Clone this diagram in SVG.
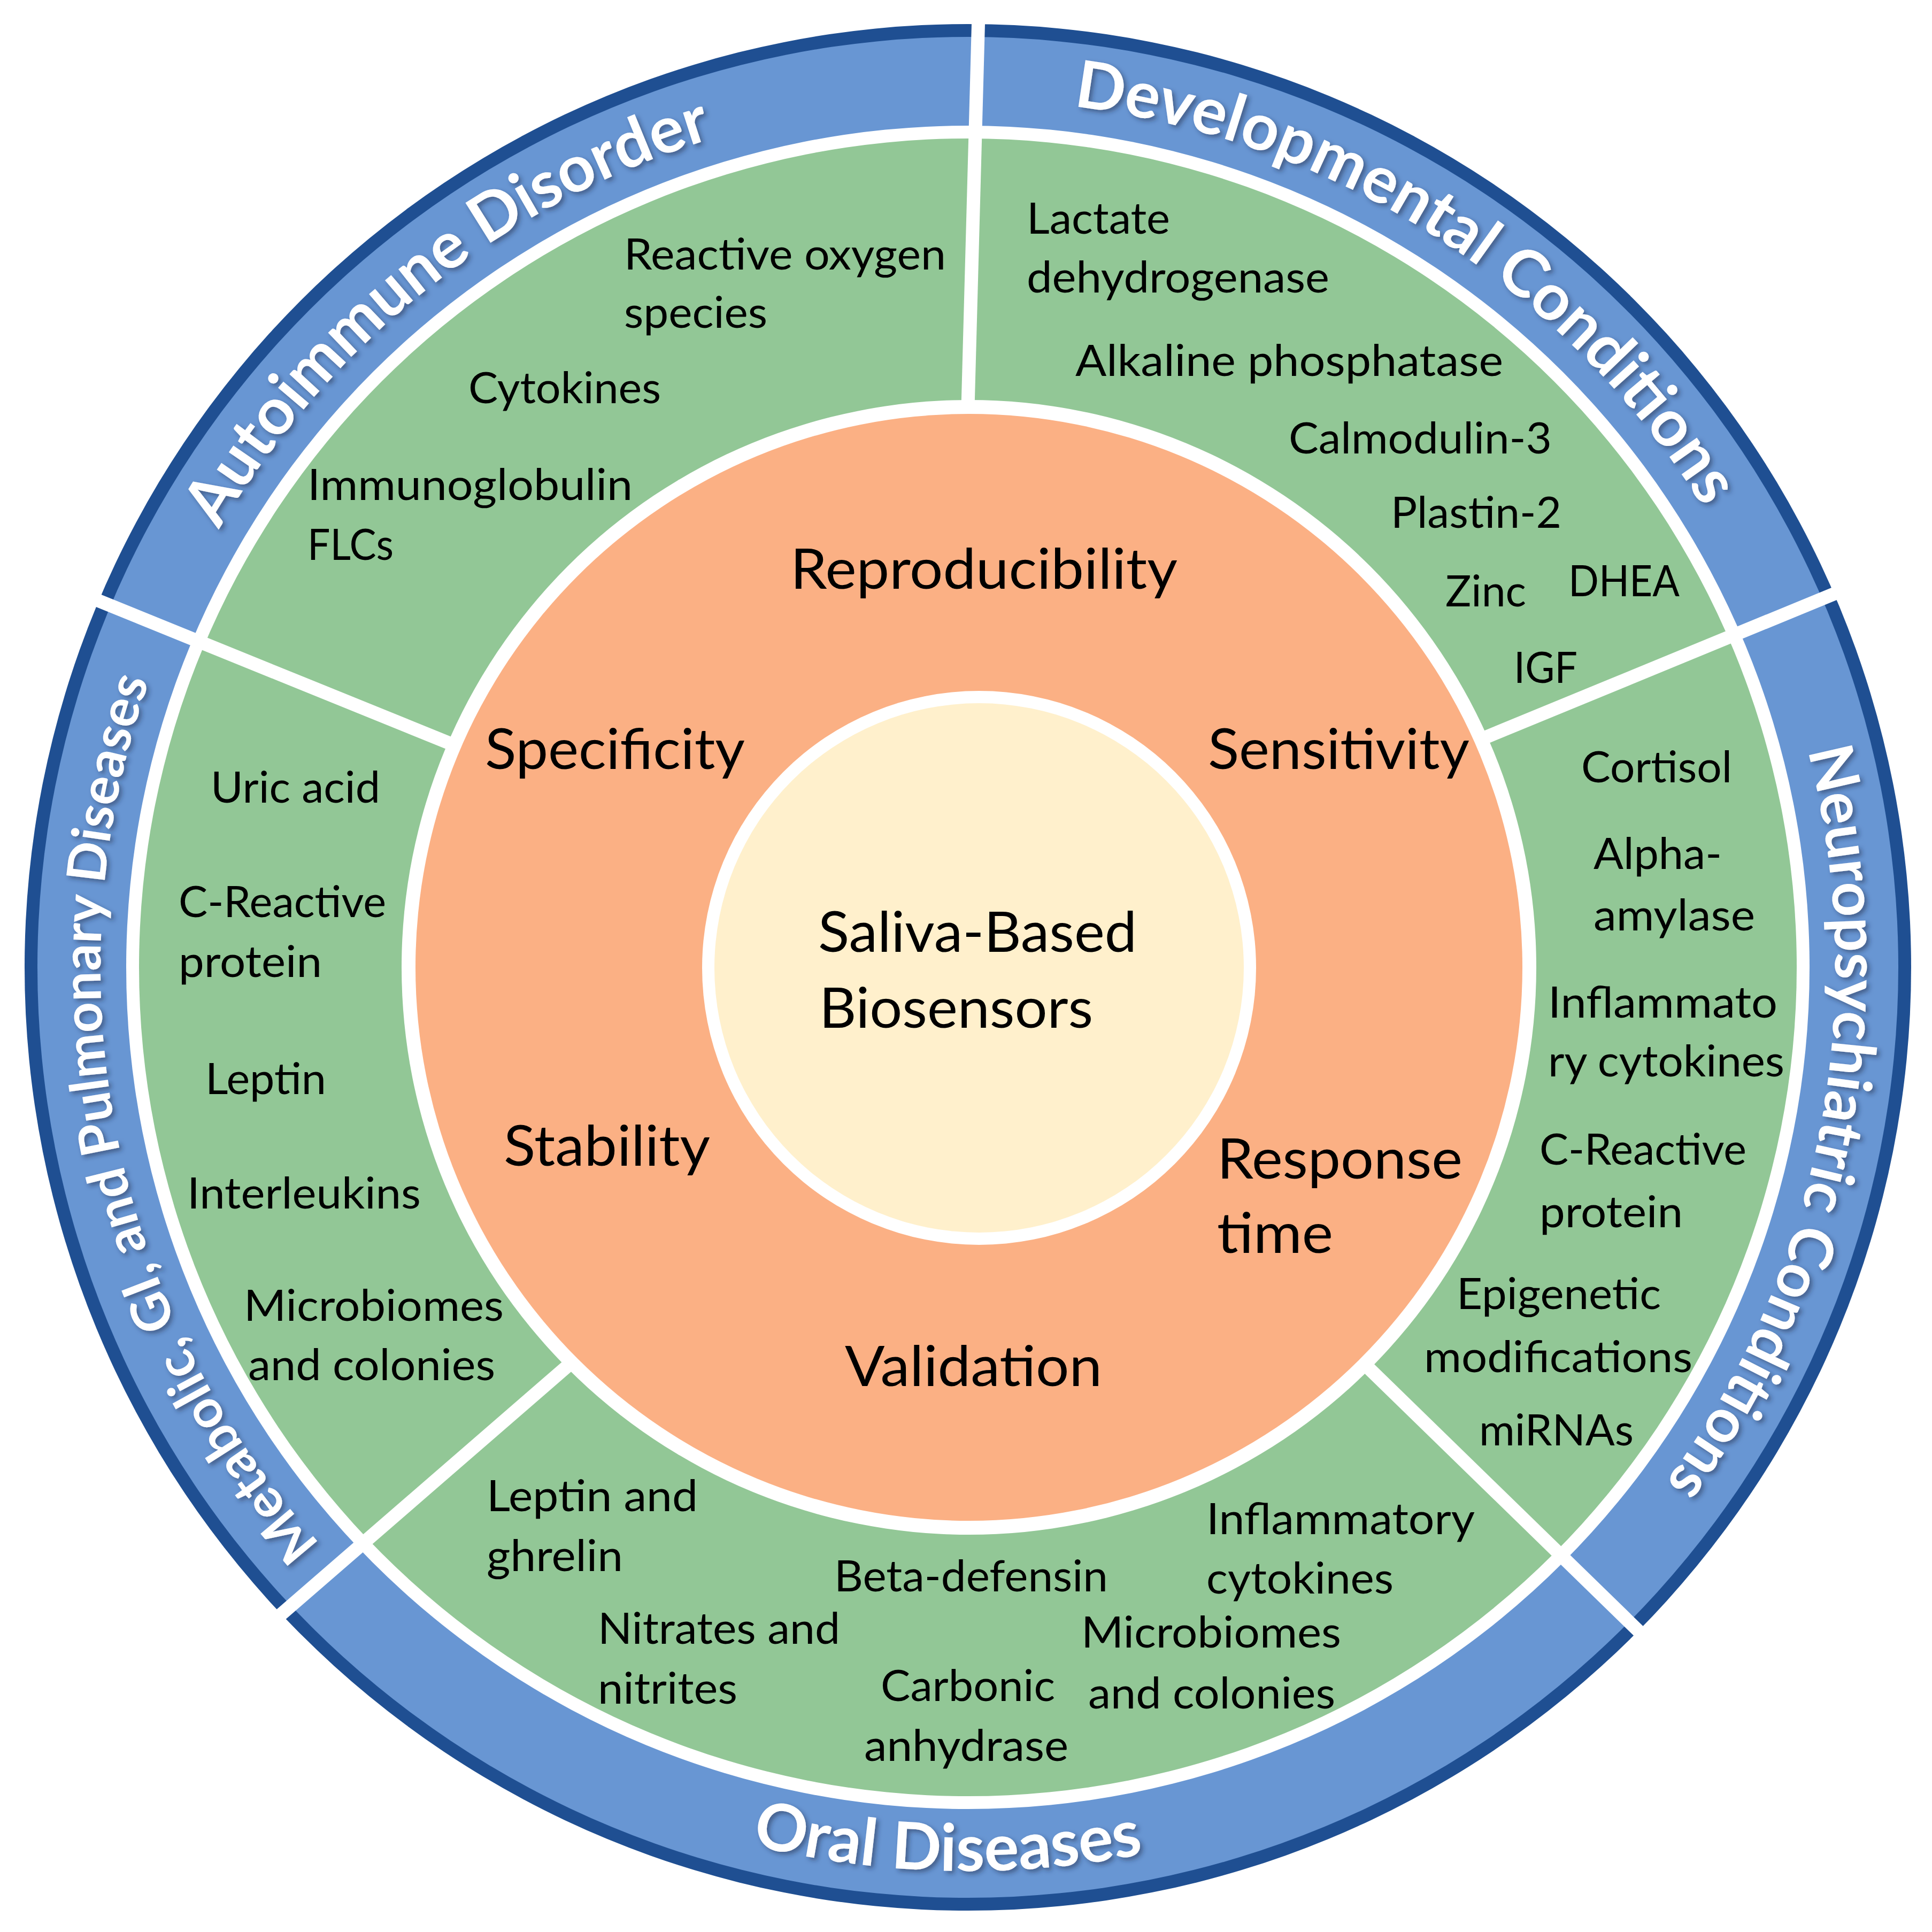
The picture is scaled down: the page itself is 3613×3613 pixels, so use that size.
<svg xmlns="http://www.w3.org/2000/svg" width="3613" height="3613" viewBox="0 0 3613 3613">
<defs>
<style>
.t{font-family:Lato,"Liberation Sans",sans-serif;font-size:82px;fill:#000}
.o{font-family:Lato,"Liberation Sans",sans-serif;font-size:105px;fill:#000}
.b{font-family:Lato,"Liberation Sans",sans-serif;font-weight:bold;fill:#fff;filter:url(#sh)}
.div{stroke:#fff;stroke-width:25;fill:none}
</style>
<filter id="sh" x="-10%" y="-10%" width="120%" height="120%">
<feDropShadow dx="5" dy="5" stdDeviation="4" flood-color="#1a2a44" flood-opacity="0.5"/>
</filter>
<path id="pAuto" d="M 221.1 1482.8 A 1622 1622 0 0 1 1855.3 187.6"/>
<path id="pDev" d="M 1598.3 200.9 A 1622 1622 0 0 1 3357.0 1321.2"/>
<path id="pNeuro" d="M 3228.6 1022.6 A 1622 1622 0 0 1 2830.8 3069.5"/>
<path id="pMeta" d="M 793.7 3073.1 A 1622 1622 0 0 1 388.6 1027.6"/>
<path id="pOral" d="M 701.3 3084.5 A 1690 1690 0 0 0 2873.6 3122.4"/>
</defs>
<rect width="3613" height="3613" fill="#fff"/>
<g id="rings">
<circle cx="1810" cy="1809" r="1764" fill="#1F4F92"/>
<circle cx="1810" cy="1809" r="1740" fill="#6896D3"/>
<circle cx="1810" cy="1809" r="1574" fill="#fff"/>
<circle cx="1810" cy="1809" r="1550" fill="#92C796"/>
</g>
<g id="connectors">
<line class="div" x1="1806.8" y1="880" x2="1830.7" y2="0"/>
<line class="div" x1="2700" y1="1411" x2="3640" y2="1024"/>
<line class="div" x1="2480" y1="2481" x2="3140" y2="3124"/>
<line class="div" x1="1130" y1="2495" x2="460" y2="3076"/>
<line class="div" x1="900" y1="1414" x2="60" y2="1073"/>
</g>
<g id="criteria">
<circle cx="1812" cy="1809" r="1061" fill="#fff"/>
<circle cx="1812" cy="1809" r="1035" fill="#FBB084"/>
<text class="o" x="1478" y="1101" textLength="724" lengthAdjust="spacingAndGlyphs">Reproducibility</text>
<text class="o" x="907" y="1438" textLength="486" lengthAdjust="spacingAndGlyphs">Specificity</text>
<text class="o" x="2259" y="1438" textLength="489" lengthAdjust="spacingAndGlyphs">Sensitivity</text>
<text class="o" x="942" y="2180" textLength="386" lengthAdjust="spacingAndGlyphs">Stability</text>
<text class="o" x="2276" y="2204" textLength="459" lengthAdjust="spacingAndGlyphs">Response</text>
<text class="o" x="2276" y="2343" textLength="217" lengthAdjust="spacingAndGlyphs">time</text>
<text class="o" x="1580" y="2592" textLength="481" lengthAdjust="spacingAndGlyphs">Validation</text>
</g>
<g id="center">
<circle cx="1831" cy="1810" r="518" fill="#fff"/>
<circle cx="1831" cy="1810" r="495" fill="#FFF0CC"/>
<text class="o" x="1530" y="1780" textLength="596" lengthAdjust="spacingAndGlyphs">Saliva-Based</text>
<text class="o" x="1532" y="1922" textLength="512" lengthAdjust="spacingAndGlyphs">Biosensors</text>
</g>
<g id="sector-autoimmune">
<text class="b" font-size="122"><textPath href="#pAuto" startOffset="50%" text-anchor="middle">Autoimmune Disorder</textPath></text>
<text class="t" x="1167" y="504" textLength="602" lengthAdjust="spacingAndGlyphs">Reactive oxygen</text>
<text class="t" x="1167" y="613" textLength="268" lengthAdjust="spacingAndGlyphs">species</text>
<text class="t" x="876" y="754" textLength="360" lengthAdjust="spacingAndGlyphs">Cytokines</text>
<text class="t" x="575" y="935" textLength="608" lengthAdjust="spacingAndGlyphs">Immunoglobulin</text>
<text class="t" x="575" y="1047" textLength="161" lengthAdjust="spacingAndGlyphs">FLCs</text>
</g>
<g id="sector-developmental">
<text class="b" font-size="122"><textPath href="#pDev" startOffset="50%" text-anchor="middle">Developmental Conditions</textPath></text>
<text class="t" x="1920" y="437" textLength="268" lengthAdjust="spacingAndGlyphs">Lactate</text>
<text class="t" x="1920" y="547" textLength="566" lengthAdjust="spacingAndGlyphs">dehydrogenase</text>
<text class="t" x="2011" y="703" textLength="800" lengthAdjust="spacingAndGlyphs">Alkaline phosphatase</text>
<text class="t" x="2410" y="848" textLength="492" lengthAdjust="spacingAndGlyphs">Calmodulin-3</text>
<text class="t" x="2601" y="987" textLength="319" lengthAdjust="spacingAndGlyphs">Plastin-2</text>
<text class="t" x="2703" y="1134" textLength="151" lengthAdjust="spacingAndGlyphs">Zinc</text>
<text class="t" x="2933" y="1115" textLength="208" lengthAdjust="spacingAndGlyphs">DHEA</text>
<text class="t" x="2831" y="1277" textLength="119" lengthAdjust="spacingAndGlyphs">IGF</text>
</g>
<g id="sector-neuropsychiatric">
<text class="b" font-size="114"><textPath href="#pNeuro" startOffset="50%" text-anchor="middle">Neuropsychiatric Conditions</textPath></text>
<text class="t" x="2957" y="1463" textLength="282" lengthAdjust="spacingAndGlyphs">Cortisol</text>
<text class="t" x="2980" y="1625" textLength="240" lengthAdjust="spacingAndGlyphs">Alpha-</text>
<text class="t" x="2980" y="1740" textLength="302" lengthAdjust="spacingAndGlyphs">amylase</text>
<text class="t" x="2895" y="1903" textLength="429" lengthAdjust="spacingAndGlyphs">Inflammato</text>
<text class="t" x="2895" y="2013" textLength="442" lengthAdjust="spacingAndGlyphs">ry cytokines</text>
<text class="t" x="2879" y="2178" textLength="387" lengthAdjust="spacingAndGlyphs">C-Reactive</text>
<text class="t" x="2879" y="2295" textLength="268" lengthAdjust="spacingAndGlyphs">protein</text>
<text class="t" x="2724" y="2448" textLength="382" lengthAdjust="spacingAndGlyphs">Epigenetic</text>
<text class="t" x="2663" y="2566" textLength="502" lengthAdjust="spacingAndGlyphs">modifications</text>
<text class="t" x="2766" y="2703" textLength="289" lengthAdjust="spacingAndGlyphs">miRNAs</text>
</g>
<g id="sector-oral">
<text class="b" font-size="122"><textPath href="#pOral" startOffset="49.6%" text-anchor="middle">Oral Diseases</textPath></text>
<text class="t" x="910" y="2826" textLength="395" lengthAdjust="spacingAndGlyphs">Leptin and</text>
<text class="t" x="910" y="2938" textLength="255" lengthAdjust="spacingAndGlyphs">ghrelin</text>
<text class="t" x="1560" y="2976" textLength="512" lengthAdjust="spacingAndGlyphs">Beta-defensin</text>
<text class="t" x="2256" y="2869" textLength="502" lengthAdjust="spacingAndGlyphs">Inflammatory</text>
<text class="t" x="2256" y="2980" textLength="350" lengthAdjust="spacingAndGlyphs">cytokines</text>
<text class="t" x="1118" y="3074" textLength="453" lengthAdjust="spacingAndGlyphs">Nitrates and</text>
<text class="t" x="1118" y="3186" textLength="261" lengthAdjust="spacingAndGlyphs">nitrites</text>
<text class="t" x="2022" y="3081" textLength="486" lengthAdjust="spacingAndGlyphs">Microbiomes</text>
<text class="t" x="2035" y="3195" textLength="462" lengthAdjust="spacingAndGlyphs">and colonies</text>
<text class="t" x="1647" y="3181" textLength="326" lengthAdjust="spacingAndGlyphs">Carbonic</text>
<text class="t" x="1616" y="3293" textLength="382" lengthAdjust="spacingAndGlyphs">anhydrase</text>
</g>
<g id="sector-metabolic">
<text class="b" font-size="100"><textPath href="#pMeta" startOffset="50%" text-anchor="middle">Metabolic, GI, and Pulmonary Diseases</textPath></text>
<text class="t" x="394" y="1501" textLength="317" lengthAdjust="spacingAndGlyphs">Uric acid</text>
<text class="t" x="334" y="1715" textLength="388" lengthAdjust="spacingAndGlyphs">C-Reactive</text>
<text class="t" x="334" y="1827" textLength="268" lengthAdjust="spacingAndGlyphs">protein</text>
<text class="t" x="384" y="2046" textLength="226" lengthAdjust="spacingAndGlyphs">Leptin</text>
<text class="t" x="350" y="2260" textLength="437" lengthAdjust="spacingAndGlyphs">Interleukins</text>
<text class="t" x="456" y="2470" textLength="486" lengthAdjust="spacingAndGlyphs">Microbiomes</text>
<text class="t" x="464" y="2581" textLength="462" lengthAdjust="spacingAndGlyphs">and colonies</text>
</g>
</svg>
